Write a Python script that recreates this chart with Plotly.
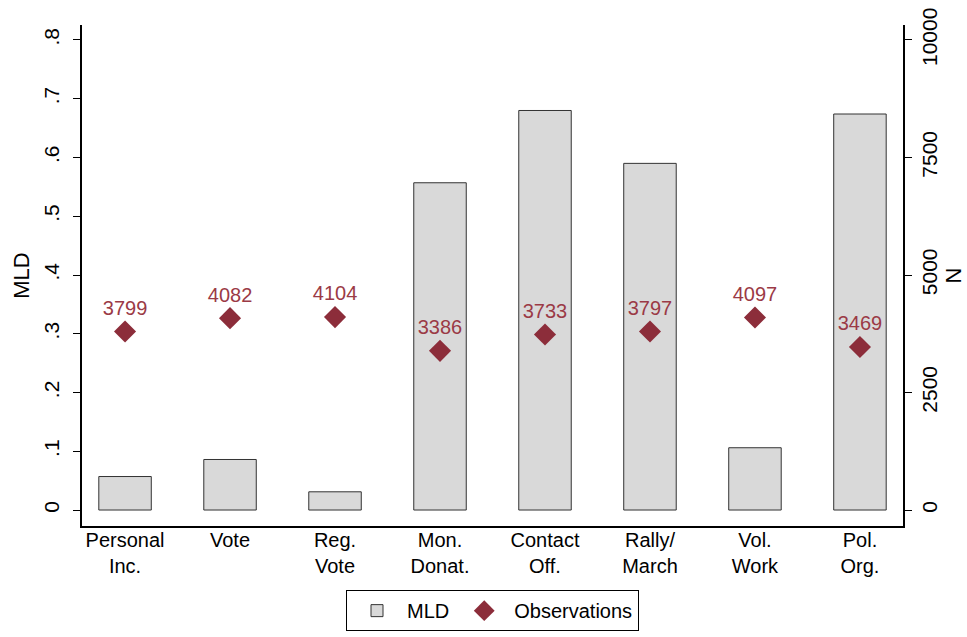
import plotly.graph_objects as go

categories = ["Personal<br>Inc.", "Vote", "Reg.<br>Vote", "Mon.<br>Donat.", "Contact<br>Off.", "Rally/<br>March", "Vol.<br>Work", "Pol.<br>Org."]
mld = [0.057, 0.086, 0.031, 0.557, 0.680, 0.590, 0.106, 0.674]
observations = [3799, 4082, 4104, 3386, 3733, 3797, 4097, 3469]
left_ticks = [0, 0.1, 0.2, 0.3, 0.4, 0.5, 0.6, 0.7, 0.8]
left_labels = ["0", ".1", ".2", ".3", ".4", ".5", ".6", ".7", ".8"]
right_ticks = [0, 2500, 5000, 7500, 10000]

FONT = "Liberation Sans, Arial, sans-serif"
RED = "#8c2d3a"

x = list(range(len(categories)))
ymin, ymax = -0.0272, 0.8255
scale = 12500

fig = go.Figure()
fig.add_trace(go.Bar(
    x=x, y=mld, name="MLD", width=0.5,
    marker=dict(color="#d9d9d9", line=dict(color="#333333", width=1)),
))
fig.add_trace(go.Scatter(
    x=x, y=observations, name="Observations", yaxis="y2",
    mode="markers+text", text=[str(v) for v in observations],
    textposition="top center",
    textfont=dict(color="#9b3a46", size=20, family=FONT),
    marker=dict(symbol="diamond", size=17, color=RED),
))

fig.update_layout(
    width=967, height=637,
    margin=dict(l=82, r=64, t=25, b=111, autoexpand=False),
    paper_bgcolor="white", plot_bgcolor="white",
    font=dict(family=FONT, size=20, color="black"),
    showlegend=True,
    legend=dict(orientation="h", x=0.5, xanchor="center", y=-0.128, yanchor="top",
                bordercolor="black", borderwidth=1, font=dict(size=20),
                itemwidth=50, tracegroupgap=0),
    xaxis=dict(range=[-0.41, 7.41], tickvals=x, ticktext=categories,
               showline=True, linecolor="black", linewidth=1.5, ticks="",
               showgrid=False, zeroline=False, tickfont=dict(size=20),
               ticklabelstandoff=-5, automargin=False),
    yaxis=dict(range=[ymin, ymax], tickvals=left_ticks, ticktext=left_labels,
               tickangle=-90, ticks="outside", ticklen=7, tickcolor="black",
               showline=True, linecolor="black", linewidth=1.5,
               showgrid=False, zeroline=False, tickfont=dict(size=21),
               ticklabelstandoff=6, automargin=False,
               title=dict(text="MLD", font=dict(size=22), standoff=4)),
    yaxis2=dict(range=[ymin * scale, ymax * scale], tickvals=right_ticks,
                ticktext=[str(v) for v in right_ticks],
                overlaying="y", side="right", tickangle=-90,
                ticks="outside", ticklen=7, tickcolor="black",
                showline=True, linecolor="black", linewidth=1.5,
                showgrid=False, zeroline=False, tickfont=dict(size=21),
                automargin=False,
                title=dict(text="N", font=dict(size=22), standoff=6)),
)

fig.write_html("out.html")
